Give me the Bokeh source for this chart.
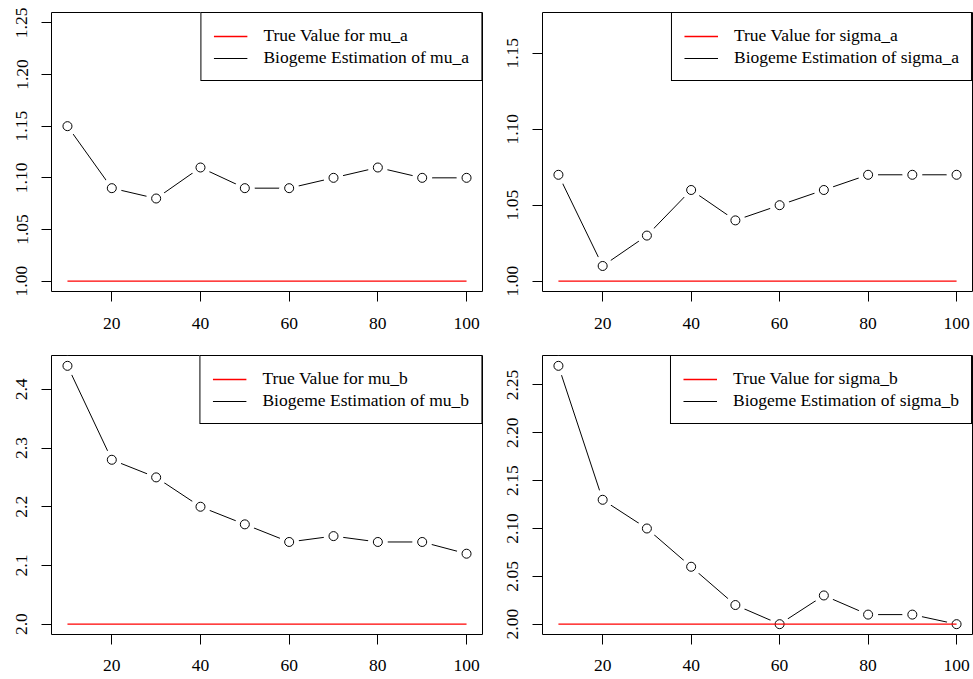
from bokeh.plotting import figure
from bokeh.layouts import column, row
from bokeh.models import Range1d, FixedTicker, Legend, LegendItem
from bokeh.embed import file_html
from bokeh.resources import INLINE

# ---- data ----
sample_sizes = [10, 20, 30, 40, 50, 60, 70, 80, 90, 100]
x_ticks = [20, 40, 60, 80, 100]

mu_a_est = [1.15, 1.09, 1.08, 1.11, 1.09, 1.09, 1.10, 1.11, 1.10, 1.10]
sigma_a_est = [1.07, 1.01, 1.03, 1.06, 1.04, 1.05, 1.06, 1.07, 1.07, 1.07]
mu_b_est = [2.44, 2.28, 2.25, 2.20, 2.17, 2.14, 2.15, 2.14, 2.14, 2.12]
sigma_b_est = [2.27, 2.13, 2.10, 2.06, 2.02, 2.00, 2.03, 2.01, 2.01, 2.00]

true_mu_a = 1.0
true_sigma_a = 1.0
true_mu_b = 2.0
true_sigma_b = 2.0

ylim_mu_a = (1.00, 1.25)
ylim_sigma_a = (1.00, 1.17)
ylim_mu_b = (2.00, 2.44)
ylim_sigma_b = (2.00, 2.27)

yticks_mu_a = [1.00, 1.05, 1.10, 1.15, 1.20, 1.25]
ylabels_mu_a = ["1.00", "1.05", "1.10", "1.15", "1.20", "1.25"]
yticks_sigma_a = [1.00, 1.05, 1.10, 1.15]
ylabels_sigma_a = ["1.00", "1.05", "1.10", "1.15"]
yticks_mu_b = [2.0, 2.1, 2.2, 2.3, 2.4]
ylabels_mu_b = ["2.0", "2.1", "2.2", "2.3", "2.4"]
yticks_sigma_b = [2.00, 2.05, 2.10, 2.15, 2.20, 2.25]
ylabels_sigma_b = ["2.00", "2.05", "2.10", "2.15", "2.20", "2.25"]

FONT = "Liberation Serif"
FS = "17.5px"


def r_range(lo, hi):
    ext = (hi - lo) * 0.04
    return Range1d(lo - ext, hi + ext)


def make_panel(name, est, true_val, ylim, yticks, ylabels,
               width, height, bl, br, bt, bb, x_standoff):
    p = figure(width=width, height=height, output_backend="svg",
               toolbar_location=None,
               min_border_left=bl, min_border_right=br,
               min_border_top=bt, min_border_bottom=bb,
               x_range=r_range(min(sample_sizes), max(sample_sizes)),
               y_range=r_range(*ylim))
    p.background_fill_color = "white"
    p.border_fill_color = "white"
    p.outline_line_color = "black"
    p.outline_line_alpha = 1.0
    p.outline_line_width = 1
    p.xgrid.grid_line_color = None
    p.ygrid.grid_line_color = None

    for ax in (p.xaxis[0], p.yaxis[0]):
        ax.axis_line_color = None
        ax.major_tick_in = 0
        ax.major_tick_out = 10
        ax.major_tick_line_color = "black"
        ax.minor_tick_line_color = None
        ax.major_label_text_font = FONT
        ax.major_label_text_font_size = FS
        ax.major_label_text_color = "black"

    p.xaxis[0].ticker = FixedTicker(ticks=x_ticks)
    p.xaxis[0].major_label_standoff = x_standoff
    p.yaxis[0].ticker = FixedTicker(ticks=yticks)
    p.yaxis[0].major_label_overrides = {t: l for t, l in zip(yticks, ylabels)}
    p.yaxis[0].major_label_orientation = "vertical"
    p.yaxis[0].major_label_standoff = 14

    est_line = p.line(sample_sizes, est, line_color="black", line_width=1)
    p.scatter(sample_sizes, est, marker="circle", size=20,
              fill_color="white", line_color=None)
    p.scatter(sample_sizes, est, marker="circle", size=9,
              fill_color="white", line_color="black", line_width=1)
    true_line = p.line([min(sample_sizes), max(sample_sizes)],
                       [true_val, true_val], line_color="#FF0000",
                       line_width=1.3)

    legend = Legend(items=[
        LegendItem(label="True Value for " + name, renderers=[true_line]),
        LegendItem(label="Biogeme Estimation of " + name,
                   renderers=[est_line]),
    ], location="top_right")
    legend.margin = 0
    legend.padding = 12
    legend.spacing = 1
    legend.label_height = 20
    legend.glyph_height = 20
    legend.glyph_width = 34
    legend.label_standoff = 16
    legend.label_text_font = FONT
    legend.label_text_font_size = FS
    legend.label_text_color = "black"
    legend.border_line_color = "black"
    legend.border_line_alpha = 1.0
    legend.border_line_width = 1
    legend.background_fill_color = "white"
    legend.background_fill_alpha = 1.0
    p.add_layout(legend, "center")
    return p


# page has no body margin: figures placed edge to edge in the 973x679 window
p1 = make_panel("mu_a", mu_a_est, true_mu_a, ylim_mu_a, yticks_mu_a,
                ylabels_mu_a, 483, 340, 51, 1, 12, 49, 16)
p2 = make_panel("sigma_a", sigma_a_est, true_sigma_a, ylim_sigma_a,
                yticks_sigma_a, ylabels_sigma_a, 490, 340, 59, 1, 12, 49, 16)
p3 = make_panel("mu_b", mu_b_est, true_mu_b, ylim_mu_b, yticks_mu_b,
                ylabels_mu_b, 483, 339, 51, 1, 15, 45, 15)
p4 = make_panel("sigma_b", sigma_b_est, true_sigma_b, ylim_sigma_b,
                yticks_sigma_b, ylabels_sigma_b, 490, 339, 59, 1, 15, 45, 15)

layout = column(row(p1, p2), row(p3, p4))

open("out.html", "w").write(file_html(layout, INLINE))
